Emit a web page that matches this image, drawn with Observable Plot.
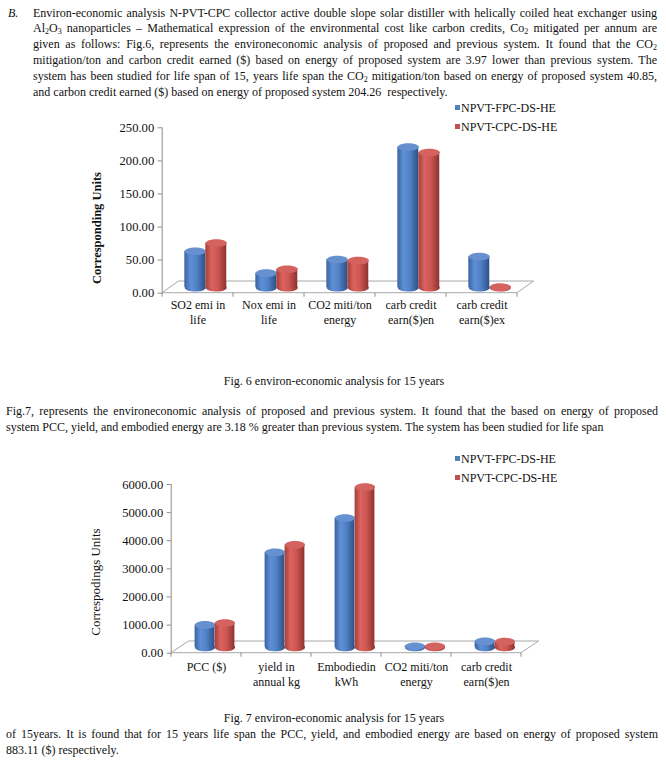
<!DOCTYPE html>
<html><head><meta charset="utf-8">
<script src="https://cdn.jsdelivr.net/npm/d3@7"></script>
<script src="https://cdn.jsdelivr.net/npm/@observablehq/plot@0.6"></script>
<style>
html,body{margin:0;padding:0;background:#fff;}
body{width:666px;height:769px;position:relative;overflow:hidden;font-family:"Liberation Serif","Times New Roman",serif;color:#111;font-size:12px;}
.ln{position:absolute;white-space:nowrap;line-height:16px;height:16px;}
.ln span{white-space:nowrap;}
sub{font-size:8px;vertical-align:-2px;line-height:0}
.chart{position:absolute;left:0;}
.chart svg{overflow:visible}
.chart text{fill:#111}
.leg{position:absolute;font-size:12px;line-height:14px;white-space:nowrap}
.leg i{display:inline-block;width:5px;height:5px;margin-right:1px;vertical-align:2px}
.ytitle{position:absolute;transform:translate(-50%,-50%) rotate(-90deg);white-space:nowrap;font-size:12.5px}
</style></head>
<body>
<svg width="0" height="0" style="position:absolute">
<defs>
<linearGradient id="gb" x1="0" x2="1" y1="0" y2="0">
<stop offset="0" stop-color="#3a63a0"/><stop offset="0.3" stop-color="#5f90d7"/><stop offset="0.6" stop-color="#5080c4"/><stop offset="1" stop-color="#2c5088"/>
</linearGradient>
<linearGradient id="gr" x1="0" x2="1" y1="0" y2="0">
<stop offset="0" stop-color="#a23e3b"/><stop offset="0.3" stop-color="#dc635f"/><stop offset="0.6" stop-color="#cb5652"/><stop offset="1" stop-color="#8e3230"/>
</linearGradient>
</defs></svg>

<div class="ln" style="left:8px;top:4.5px;font-style:italic">B.</div>
<div class="ln j" data-w="624" style="left:33px;top:4.5px"><span>Environ-economic analysis N-PVT-CPC collector active double slope solar distiller with helically coiled heat exchanger using</span></div>
<div class="ln j" data-w="624" style="left:33px;top:20.3px"><span>Al<sub>2</sub>O<sub>3</sub> nanoparticles – Mathematical expression of the environmental cost like carbon credits, Co<sub>2</sub> mitigated per annum are</span></div>
<div class="ln j" data-w="624" style="left:33px;top:36.1px"><span>given as follows: Fig.6, represents the environeconomic analysis of proposed and previous system. It found that the CO<sub>2</sub></span></div>
<div class="ln j" data-w="624" style="left:33px;top:51.9px"><span>mitigation/ton and carbon credit earned ($) based on energy of proposed system are 3.97 lower than previous system. The</span></div>
<div class="ln j" data-w="624" style="left:33px;top:67.7px"><span>system has been studied for life span of 15, years life span the CO<sub>2</sub> mitigation/ton based on energy of proposed system 40.85,</span></div>
<div class="ln" style="left:33px;top:83.5px"><span>and carbon credit earned ($) based on energy of proposed system 204.26&nbsp; respectively.</span></div>

<div class="ytitle" style="left:96.5px;top:228px;font-weight:bold">Corresponding Units</div>
<div id="c1" class="chart" style="top:100px"></div>
<div class="leg" style="left:455px;top:101px"><i style="background:#4f81bd"></i>NPVT-FPC-DS-HE</div>
<div class="leg" style="left:455px;top:119.5px"><i style="background:#c0504d"></i>NPVT-CPC-DS-HE</div>

<div class="ln" style="left:0;width:668px;text-align:center;top:373px">Fig. 6 environ-economic analysis for 15 years</div>
<div class="ln j" data-w="652" style="left:6px;top:403px"><span>Fig.7, represents the environeconomic analysis of proposed and previous system. It found that the based on energy of proposed</span></div>
<div class="ln" style="left:6px;top:419px"><span>system PCC, yield, and embodied energy are 3.18 % greater than previous system. The system has been studied for life span</span></div>

<div class="ytitle" style="left:95.7px;top:582px;font-size:13px">Correspodings Units</div>
<div id="c2" class="chart" style="top:455px"></div>
<div class="leg" style="left:455px;top:452px"><i style="background:#4f81bd"></i>NPVT-FPC-DS-HE</div>
<div class="leg" style="left:455px;top:471px"><i style="background:#c0504d"></i>NPVT-CPC-DS-HE</div>

<div class="ln" style="left:0;width:668px;text-align:center;top:710px">Fig. 7 environ-economic analysis for 15 years</div>
<div class="ln j" data-w="652" style="left:6px;top:726px"><span>of 15years. It is found that for 15 years life span the PCC, yield, and embodied energy are based on energy of proposed system</span></div>
<div class="ln" style="left:6px;top:742px"><span>883.11 ($) respectively.</span></div>

<script>
// ---- data ----
const series = ["NPVT-FPC-DS-HE", "NPVT-CPC-DS-HE"];
const categories1 = ["SO2 emi in\nlife", "Nox emi in\nlife", "CO2 miti/ton\nenergy", "carb credit\nearn($)en", "carb credit\nearn($)ex"];
const fpc1 = [55, 22, 42.54, 212.7, 47];
const cpc1 = [67.5, 28, 40.85, 204.26, 0.8];
const yTicks1 = [0, 50, 100, 150, 200, 250];

const categories2 = ["PCC ($)", "yield in\nannual kg", "Embodiedin\nkWh", "CO2 miti/ton\nenergy", "carb credit\nearn($)en"];
const fpc2 = [800, 3380, 4600, 42.54, 212.7];
const cpc2 = [870, 3650, 5700, 40.85, 204.26];
const yTicks2 = [0, 1000, 2000, 3000, 4000, 5000, 6000];

// justify lines
document.querySelectorAll('.j').forEach(el => {
  const span = el.firstElementChild;
  const target = parseFloat(el.dataset.w);
  const nat = span.getBoundingClientRect().width;
  const text = span.textContent;
  const nsp = (text.match(/ /g) || []).length;
  if (nat < target && nsp) span.style.wordSpacing = ((target - nat) / nsp) + "px";
  else if (nat > target) span.style.letterSpacing = ((target - nat) / text.length) + "px";
});

function ellipseSymbol(rx, ry) {
  const k = 0.5523;
  return {draw(ctx) {
    ctx.moveTo(-rx, 0);
    ctx.bezierCurveTo(-rx, -ry * k, -rx * k, -ry, 0, -ry);
    ctx.bezierCurveTo(rx * k, -ry, rx, -ry * k, rx, 0);
    ctx.bezierCurveTo(rx, ry * k, rx * k, ry, 0, ry);
    ctx.bezierCurveTo(-rx * k, ry, -rx, ry * k, -rx, 0);
    ctx.closePath();
  }};
}

function cylChart(cfg) {
  const {cats, a, b, ticks, height, mLeft, mRight, mTop, mBottom, w, dx, dy, depth, labelDy} = cfg;
  const width = 666;
  const bw = (width - mLeft - mRight) / cats.length;
  const A = cats.map((c, i) => ({cat: c, s: series[0], v: a[i]}));
  const B = cats.map((c, i) => ({cat: c, s: series[1], v: b[i]}));
  const ell = ellipseSymbol(w / 2, 3.8);
  const floor = (index, scales, values, dims) => {
    const x0 = scales.x(cats[0]);
    const x1 = scales.x(cats[cats.length - 1]) + scales.x.bandwidth();
    const y0 = scales.y(0);
    const g = d3.create("svg:g");
    g.append("path")
      .attr("d", `M${x0},${y0}L${x1},${y0}L${x1 + depth[0]},${y0 + depth[1]}L${x0 + depth[0]},${y0 + depth[1]}Z`)
      .attr("fill", "#fff").attr("stroke", "#a8a8a8").attr("stroke-width", 1);
    const bounds = cats.map(c => scales.x(c)).concat([x1]);
    bounds.forEach(xb => g.append("line").attr("x1", xb).attr("x2", xb).attr("y1", y0).attr("y2", y0 + 4)
      .attr("stroke", "#8c8c8c"));
    return g.node();
  };
  const cyl = (D, grad, cap, off) => [
    Plot.dot(D, {x: "cat", y: () => 0, dx: dx + off, dy, symbol: ell, fill: grad, stroke: "none"}),
    Plot.barY(D, {x: "cat", y: "v", dx, dy, fill: grad,
      insetLeft: off < 0 ? bw / 2 - w : bw / 2, insetRight: off < 0 ? bw / 2 : bw / 2 - w}),
    Plot.dot(D, {x: "cat", y: "v", dx: dx + off, dy, symbol: ell, fill: cap, stroke: "none"})
  ];
  return Plot.plot({
    width, height,
    marginLeft: mLeft, marginRight: mRight, marginTop: mTop, marginBottom: mBottom,
    style: {fontFamily: "'Liberation Serif', 'Times New Roman', serif", fontSize: "12.6px", background: "transparent", color: "#8c8c8c", overflow: "visible"},
    x: {domain: cats, padding: 0, axis: null},
    y: {domain: [ticks[0], ticks[ticks.length - 1]], ticks, tickFormat: d3.format(".2f"), tickSize: 4, tickPadding: 4, line: true, label: null},
    marks: [
      floor,
      ...cyl(A, "url(#gb)", "#6690d0", -w / 2),
      ...cyl(B, "url(#gr)", "#d4625e", w / 2),
      Plot.text(cats, {x: d => d, y: () => 0, text: d => d, lineAnchor: "top", dy: labelDy, fontSize: 12, fill: "#111", lineHeight: 1.25})
    ]
  });
}

document.getElementById("c1").append(cylChart({
  cats: categories1, a: fpc1, b: cpc1, ticks: yTicks1, height: 240,
  mLeft: 161.7, mRight: 149, mTop: 27.3, mBottom: 47.3,
  w: 21, dx: 7.8, dy: -5.5, depth: [16.6, -11.7], labelDy: 5
}));
document.getElementById("c2").append(cylChart({
  cats: categories2, a: fpc2, b: cpc2, ticks: yTicks2, height: 240,
  mLeft: 170.7, mRight: 144.3, mTop: 29, mBottom: 42.3,
  w: 20, dx: 8.5, dy: -5.8, depth: [17.6, -11.7], labelDy: 7
}));
</script>
</body></html>
